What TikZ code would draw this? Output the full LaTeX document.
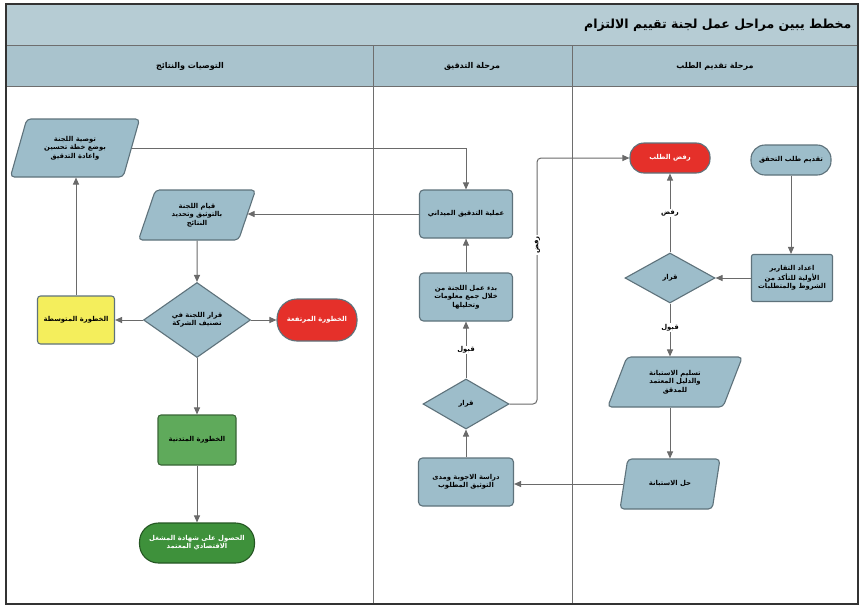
\documentclass[tikz,border=0pt]{standalone}
\usepackage{fontspec}
\newfontfamily\arabicfont[Script=Arabic, BoldFont={DejaVu Sans Bold}]{DejaVu Sans}
\TeXXeTstate=1
\usetikzlibrary{shapes.geometric,arrows.meta}
\newcommand{\artxt}[1]{{\arabicfont\bfseries\beginR #1\endR}}
\definecolor{boxblue}{HTML}{9DBDCA}
\definecolor{boxedge}{HTML}{5E727B}
\definecolor{headblue}{HTML}{A9C3CD}
\definecolor{lanegray}{HTML}{6E6E6E}
\definecolor{redbox}{HTML}{E5302A}
\definecolor{yelbox}{HTML}{F4EE5C}
\definecolor{grnbox}{HTML}{5FAA5B}
\definecolor{dgrnbox}{HTML}{3E913B}
\definecolor{linegray}{HTML}{6A6A6A}
\tikzset{
  base/.style={draw=boxedge, line width=1.1pt, align=center, inner sep=2pt,
    font=\fontsize{6.8}{8.4}\selectfont, text=black},
  stad/.style={base, rectangle, rounded corners=14pt, minimum width=80pt, minimum height=30pt},
  proc/.style={base, rectangle, rounded corners=4pt, fill=boxblue, minimum width=93pt, minimum height=48pt},
  para/.style={base, trapezium, trapezium left angle=68, trapezium right angle=112,
    trapezium stretches=true, rounded corners=4pt, fill=boxblue},
  dec/.style={base, diamond, fill=boxblue, minimum width=90pt, minimum height=50pt, inner sep=0pt},
  arr/.style={draw=linegray, line width=1pt, -{Triangle[length=7pt,width=6pt]}},
  lbl/.style={fill=white, inner sep=1pt, font=\fontsize{6.8}{8.4}\selectfont, text=black},
  hdr/.style={font=\fontsize{8}{10}\selectfont, text=black}
}
\begin{document}
\begin{tikzpicture}[x=1pt,y=-1pt]
\useasboundingbox (0,0) rectangle (861,608);
\fill[white] (0,0) rectangle (861,608);
% frame, title, headers
\fill[headblue] (6,4) rectangle (858,86);
\fill[headblue!85!white] (6,4) rectangle (858,45);
\draw[lanegray, line width=1pt] (6,45) -- (858,45);
\draw[lanegray, line width=1pt] (6,86) -- (858,86);
\draw[lanegray, line width=1pt] (373,45) -- (373,604);
\draw[lanegray, line width=1pt] (572,45) -- (572,604);
\draw[black!80, line width=2pt] (6,4) rectangle (858,604);
\node[font=\fontsize{12.5}{15}\selectfont, anchor=east, text=black] (title) at (855,25) {\artxt{مخطط يبين مراحل عمل لجنة تقييم الالتزام}};
\node[hdr] (h1) at (715,66) {\artxt{مرحلة تقديم الطلب}};
\node[hdr] (h2) at (472,66) {\artxt{مرحلة التدقيق}};
\node[hdr] (h3) at (190,66) {\artxt{التوصيات والنتائج}};
% right lane
\node[stad, fill=boxblue] (req) at (791,160) {\artxt{تقديم طلب التحقق}};
\node[stad, fill=redbox, text=white] (rej) at (670,158) {\artxt{رفض الطلب}};
\node[proc, minimum width=81pt, minimum height=47pt, rounded corners=2pt] (prep) at (792,278) {\artxt{اعداد التقارير}\\\artxt{الأولية للتأكد من}\\\artxt{الشروط والمتطلبات}};
\node[dec] (dec1) at (670,278) {\artxt{قرار}};
\node[para, minimum width=135pt, minimum height=50pt] (deliv) at (675,382) {\artxt{تسليم الاستبانة}\\\artxt{والدليل المعتمد}\\\artxt{للمدقق}};
\node[para, minimum width=100pt, minimum height=50pt] (fill) at (670,484) {\artxt{حل الاستبانة}};
% middle lane
\node[proc] (field) at (466,214) {\artxt{عملية التدقيق الميداني}};
\node[proc] (start) at (466,297) {\artxt{بدء عمل اللجنة من}\\\artxt{خلال جمع معلومات}\\\artxt{وتحليلها}};
\node[dec, minimum width=86pt] (dec2) at (466,404) {\artxt{قرار}};
\node[proc, minimum width=95pt] (study) at (466,482) {\artxt{دراسة الاجوبة ومدى}\\\artxt{التوثيق المطلوب}};
% left lane
\node[para, minimum width=130pt, minimum height=58pt] (rec) at (75,148) {\artxt{توصية اللجنة}\\\artxt{بوضع خطة تحسين}\\\artxt{واعادة التدقيق}};
\node[para, minimum width=118pt, minimum height=50pt] (doc) at (197,215) {\artxt{قيام اللجنة}\\\artxt{بالتوثيق وتحديد}\\\artxt{النتائج}};
\node[dec, minimum width=107pt, minimum height=75pt] (dec3) at (197,320) {\artxt{قرار اللجنة في}\\\artxt{تصنيف الشركة}};
\node[base, rectangle, rounded corners=3pt, fill=yelbox, minimum width=77pt, minimum height=48pt] (med) at (76,320) {\artxt{الخطورة المتوسطة}};
\node[stad, fill=redbox, text=white, minimum width=80pt, minimum height=42pt, rounded corners=20pt] (high) at (317,320) {\artxt{الخطورة المرتفعة}};
\node[base, rectangle, rounded corners=3pt, fill=grnbox, draw=grnbox!60!black, minimum width=78pt, minimum height=50pt] (low) at (197,440) {\artxt{الخطورة المتدنية}};
\node[stad, fill=dgrnbox, draw=dgrnbox!60!black, text=white, minimum width=115pt, minimum height=40pt, rounded corners=19pt] (cert) at (197,543) {\artxt{الحصول على شهادة المشغل}\\\artxt{الاقتصادي المعتمد}};
% connectors right lane
\draw[arr] (req) -- (req |- prep.north);
\draw[arr] (prep.west) -- (dec1.east);
\draw[arr] (dec1.north) -- (rej.south) node[lbl, midway] (l1) {\artxt{رفض}};
\draw[arr] (dec1.south) -- (dec1.south |- deliv.north) node[lbl, pos=0.45] (l2) {\artxt{قبول}};
\draw[arr] (deliv.south -| fill.north) -- (fill.north);
\draw[arr] (fill.west) -- (fill.west -| study.east);
% middle lane
\draw[arr] (study.north) -- (dec2.south);
\draw[arr] (dec2.north) -- (start.south) node[lbl, pos=0.5] (l3) {\artxt{قبول}};
\draw[arr] (start.north) -- (field.south);
\coordinate (k1) at (537,404);
\draw[arr, rounded corners=4pt] (dec2.east) -- (k1) |- (rej.west);
\node[lbl, rotate=90] (l4) at (537,245) {\artxt{رفض}};
\draw[arr] (field.west) -- (field.west -| doc.east);
\draw[arr] (rec.east) -| (field.north);
% left lane
\draw[arr] (doc.south) -- (dec3.north);
\draw[arr] (dec3.west) -- (med.east);
\draw[arr] (dec3.east) -- (high.west);
\draw[arr] (dec3.south) -- (low.north);
\draw[arr] (low.south) -- (cert.north);
\draw[arr] (med.north) -- (med.north |- rec.south);
\end{tikzpicture}
\end{document}
